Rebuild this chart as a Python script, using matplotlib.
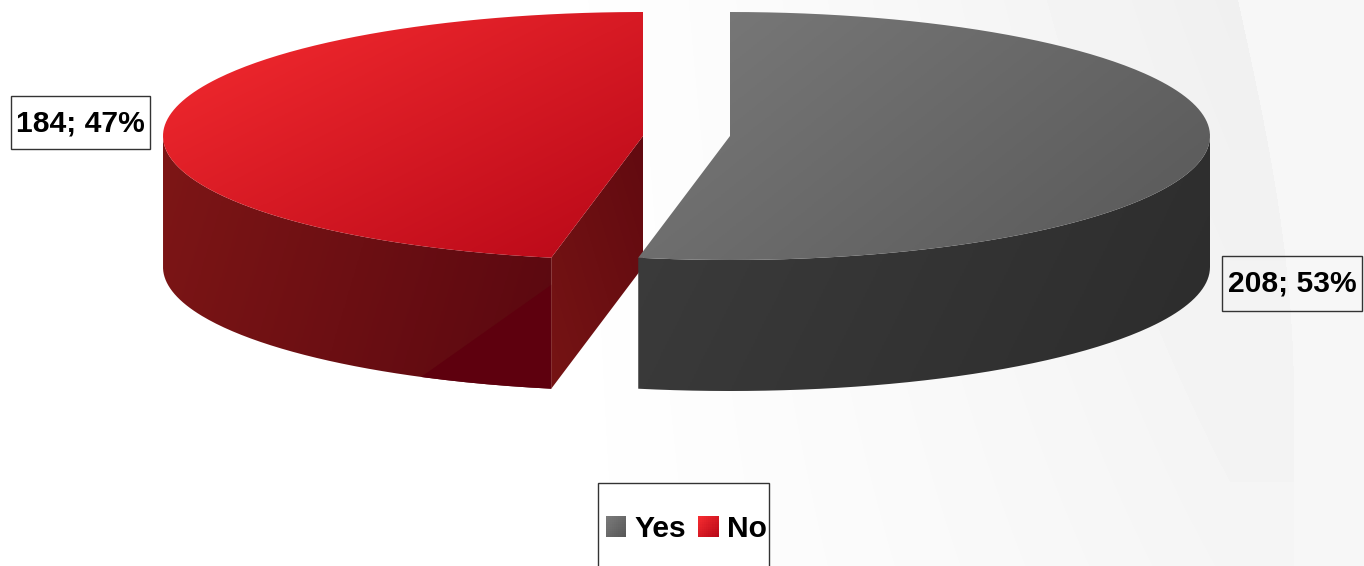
import numpy as np
import matplotlib
matplotlib.use("Agg")
import matplotlib.pyplot as plt
from matplotlib.colors import LinearSegmentedColormap, to_rgb
from matplotlib.legend_handler import HandlerBase
from matplotlib.patches import PathPatch, Polygon, Rectangle, Patch
from matplotlib.path import Path

# Survey responses
categories = ["Yes", "No"]
counts = [208, 184]
point_labels = ["208; 53%", "184; 47%"]

# Pie geometry, in canvas pixels
W, H = 1364, 566
RX, RY = 480, 124
DEPTH = 131
CY = 136
CENTRE_X = {"Yes": 730, "No": 643}

# Gradient ramps: (light end, dark end)
TOP = {"Yes": ("#7a7a7a", "#585858"), "No": ("#f62c30", "#b80818")}
RIM = {"Yes": ("#3c3c3c", "#2c2c2c"), "No": ("#7e1616", "#5a0810")}
CUT_FACE = ("#761414", "#620a10")
SHADE = "#5e000e"
FONT = ["Liberation Sans", "DejaVu Sans"]
FONT_SIZE = 21.6

fig = plt.figure(figsize=(W / 100, H / 100), dpi=100)
ax = fig.add_axes([0, 0, 1, 1])
ax.set_axis_off()


def gradient_fill(path, c0, c1, direction=(1.0, 0.6), zorder=2):
    """Paint a linear colour ramp across the bounding box of path, clipped to it."""
    x0, y0 = path.vertices.min(axis=0)
    x1, y1 = path.vertices.max(axis=0)
    xs, ys = np.meshgrid(np.linspace(x0, x1, 300), np.linspace(y0, y1, 300))
    d = np.array(direction) / np.hypot(*direction)
    t = (xs - x0) * d[0] + (ys - y0) * d[1]
    t = (t - t.min()) / (t.max() - t.min())
    cmap = LinearSegmentedColormap.from_list("ramp", [c0, c1])
    im = ax.imshow(t, extent=(x0, x1, y1, y0), cmap=cmap, vmin=0, vmax=1,
                   aspect="auto", zorder=zorder, interpolation="bilinear")
    im.set_clip_path(PathPatch(path, transform=ax.transData))
    return im


def rim_point(cx, clock_deg):
    """Point on the top ellipse, angle measured clockwise from twelve o'clock."""
    a = np.deg2rad(clock_deg)
    return np.column_stack([cx + RX * np.sin(a), CY - RY * np.cos(a)])


# Page background: white fading to pale grey, with a lighter curved band at right
gx = np.arange(W) + 0.5
gy = np.arange(H) + 0.5
XX, YY = np.meshgrid(gx, gy)
ramp = np.clip((XX - 530) / 700, 0, 1) ** 1.1
shade = 1.0 - ramp * (0.04 + 0.02 * (1 - YY / H))
band_edge = 1238 + 56 * np.sin(np.pi / 2 * np.clip(YY / 400, 0, 1))
shade = np.where(XX > band_edge, 0.966, shade)
ax.imshow(shade, extent=(0, W, H, 0), cmap="gray", vmin=0, vmax=1, aspect="auto", zorder=0)

# Slice sweeps follow the counts, running clockwise from twelve o'clock
sweep = 360 * np.array(counts) / sum(counts)
split = sweep[0]

# "No" slice comes first so that "Yes" overlaps it at the gap
cx = CENTRE_X["No"]
arc_no = rim_point(cx, np.linspace(split, 360, 240))
apex = np.array([[cx, CY]])
gradient_fill(Path(np.vstack([arc_no, apex, arc_no[:1]])), *TOP["No"], direction=(0.5, 1), zorder=3)

visible = rim_point(cx, np.linspace(split, 270, 120))
lower = visible + [0, DEPTH]
rim_path = Path(np.vstack([visible, lower[::-1], visible[:1]]))
gradient_fill(rim_path, *RIM["No"], direction=(1, 0.3), zorder=2)
shadow = Polygon([(cx - 222, CY + 241), (cx - 89, CY + 147), (cx - 89, CY + 260), (cx - 222, CY + 260)],
                 closed=True, fc=SHADE, ec="none", zorder=2.5)
ax.add_patch(shadow)
shadow.set_clip_path(PathPatch(rim_path, transform=ax.transData))

edge = arc_no[0]
cut = np.array([edge, apex[0], apex[0] + [0, DEPTH], edge + [0, DEPTH], edge])
gradient_fill(Path(cut), *CUT_FACE, direction=(1, -0.3), zorder=2.6)

# "Yes" slice
cx = CENTRE_X["Yes"]
arc_yes = rim_point(cx, np.linspace(0, split, 260))
apex = np.array([[cx, CY]])
visible = rim_point(cx, np.linspace(90, split, 140))
lower = visible + [0, DEPTH]
gradient_fill(Path(np.vstack([visible, lower[::-1], visible[:1]])), *RIM["Yes"], direction=(1, 0.5), zorder=4)
gradient_fill(Path(np.vstack([arc_yes, apex, arc_yes[:1]])), *TOP["Yes"], direction=(0.8, 1), zorder=5)

# Data label boxes and their text
label_boxes = {"Yes": (1222, 256, 140, 55), "No": (11, 96, 139, 53)}
for name, text in zip(categories, point_labels):
    bx, by, bw, bh = label_boxes[name]
    ax.add_patch(Rectangle((bx, by), bw, bh, fc="none", ec="#333333", lw=1.0, zorder=6))
    ax.text(bx + bw / 2, by + bh / 2 + 0.5, text, ha="center", va="center", family=FONT,
            fontweight="bold", fontsize=FONT_SIZE, color="black", zorder=7)


class GradientSwatch(HandlerBase):
    """Legend key drawn as a small diagonal ramp."""

    def create_artists(self, legend, orig_handle, xdescent, ydescent, width, height, fontsize, trans):
        c0, c1 = (np.array(to_rgb(c)) for c in orig_handle.ramp)
        n = 10
        cells = []
        for i in range(n):
            for j in range(n):
                t = (i + (n - 1 - j)) / (2 * n - 2)
                cells.append(Rectangle((-xdescent + width * i / n, -ydescent + height * j / n),
                                       width / n + 0.1, height / n + 0.1,
                                       fc=c0 + (c1 - c0) * t, ec="none", lw=0, transform=trans))
        return cells


# Legend frame runs off the bottom of the canvas
ax.add_patch(Rectangle((598, 483), 171, 100, fc="white", ec="#333333", lw=1.0, zorder=6))
handles = []
for name in categories:
    h = Patch(label=name)
    h.ramp = TOP[name]
    handles.append(h)
legend = ax.legend(handles=handles, loc="center left", bbox_to_anchor=(606, 529),
                   bbox_transform=ax.transData, ncols=2, frameon=False, borderpad=0, borderaxespad=0,
                   handlelength=0.67, handleheight=0.7, handletextpad=0.27, columnspacing=0.42,
                   prop={"family": FONT, "weight": "bold", "size": FONT_SIZE},
                   handler_map={Patch: GradientSwatch()})
legend.set_zorder(7)

ax.set_xlim(0, W)
ax.set_ylim(H, 0)
fig.savefig("out.png", dpi=100)
